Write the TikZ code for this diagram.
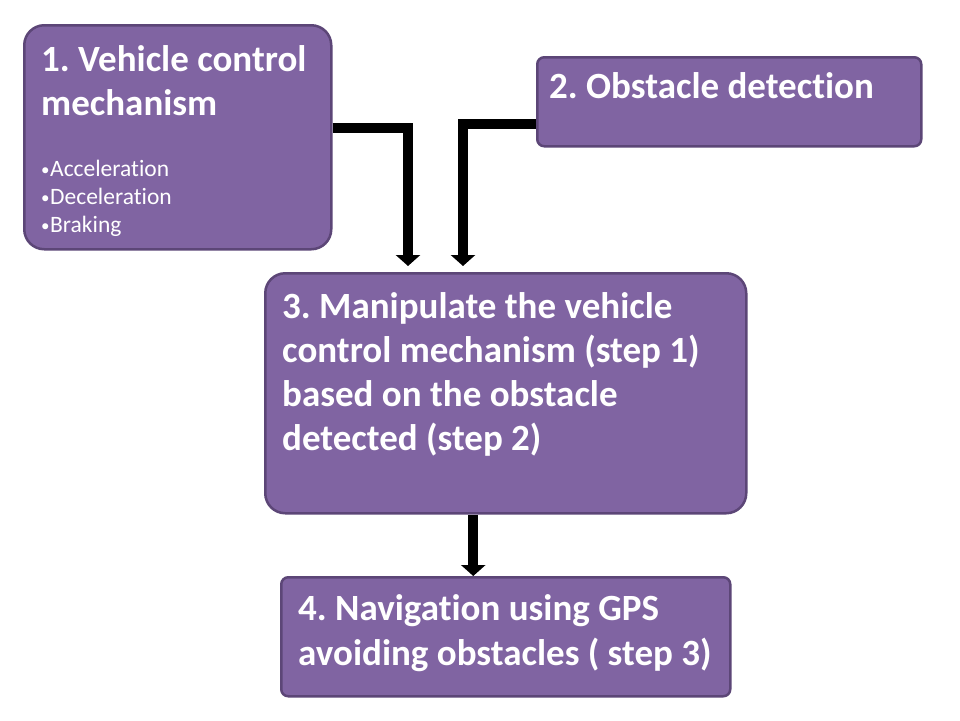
\documentclass[tikz,border=0pt]{standalone}
\usepackage{fontspec}
\setmainfont{Carlito}[Ligatures=NoCommon]
\usetikzlibrary{arrows.meta}
\definecolor{boxfill}{HTML}{8064A2}
\definecolor{boxline}{HTML}{5C4677}
\frenchspacing
\newcommand{\smallbul}{{\fontsize{17}{17}\selectfont\raisebox{1pt}{•}}\kern0.5pt}
\tikzset{
  x=1pt,y=-1pt,
  box/.style={draw=boxline,fill=boxfill,line width=2.5pt,inner sep=0pt,anchor=north west},
  big/.style={rounded corners=20pt},
  small/.style={rounded corners=7pt},
  ttl/.style={text=white,font=\fontsize{37}{44}\selectfont\bfseries,anchor=base west,inner sep=0pt},
  bul/.style={text=white,font=\fontsize{23.5}{28}\selectfont,anchor=base west,inner sep=0pt},
  conn/.style={line width=10pt,line join=miter,-{Triangle[width=24pt,length=11pt]}},
}
\begin{document}
\begin{tikzpicture}
\useasboundingbox[fill=white] (0,0) rectangle (960,720);
% boxes
\node[box,big,minimum width=307pt,minimum height=224pt] (b1) at (23,24) {};
\node[box,small,minimum width=384pt,minimum height=89pt] (b2) at (536,56) {};
\node[box,big,minimum width=481pt,minimum height=240pt] (b3) at (264,272) {};
\node[box,small,minimum width=449pt,minimum height=119pt] (b4) at (280,576) {};
% texts
\node[ttl] (t1a) at (41,71) {1. Vehicle control};
\node[ttl] (t1b) at (41,115) {mechanism};
\node[bul] (u1) at (41,176) {\smallbul Acceleration};
\node[bul] (u2) at (41,204) {\smallbul Deceleration};
\node[bul] (u3) at (41,232) {\smallbul Braking};
\node[ttl] (t2) at (549,98) {2. Obstacle detection};
\node[ttl] (t3a) at (282,318) {3. Manipulate the vehicle};
\node[ttl] (t3b) at (282,362) {control mechanism (step 1)};
\node[ttl] (t3c) at (282,406) {based on the obstacle};
\node[ttl] (t3d) at (282,450) {detected (step 2)};
\node[ttl] (t4a) at (298,620) {4. Navigation using GPS};
\node[ttl] (t4b) at (298,665) {avoiding obstacles ( step 3)};
% connectors
\coordinate (e1) at (408,266);
\coordinate (e2) at (463,266);
\draw[conn] ([yshift=9pt]b1.east) -| (e1);
\draw[conn] ([yshift=-22.5pt]b2.west) -| (e2);
\draw[conn] ([xshift=-32.5pt]b3.south) -- ([xshift=-32.5pt]b4.north);
\end{tikzpicture}
\end{document}
